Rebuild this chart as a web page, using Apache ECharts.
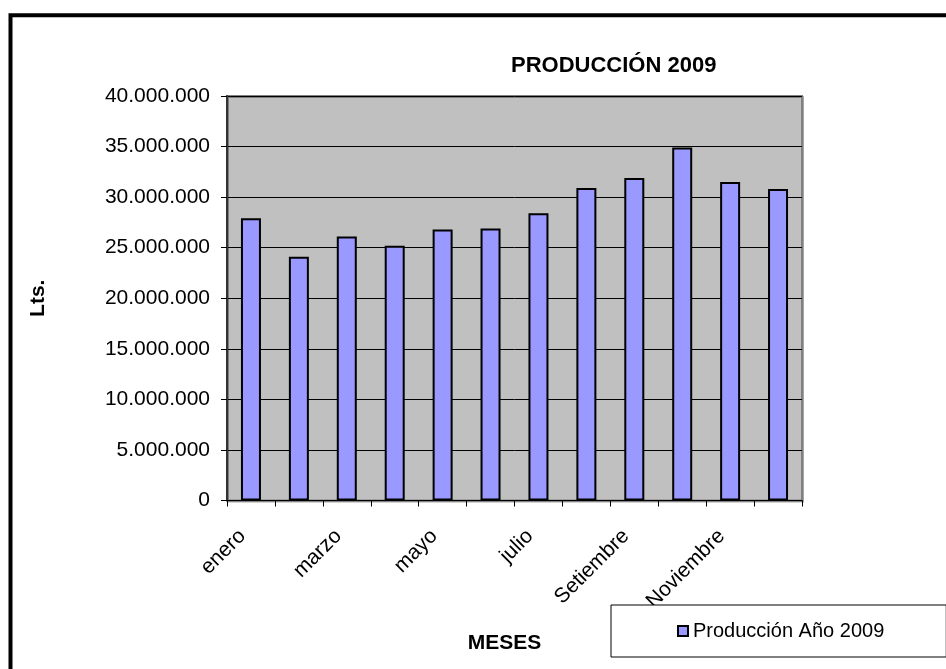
<!DOCTYPE html>
<html>
<head>
<meta charset="utf-8">
<script src="https://cdn.jsdelivr.net/npm/echarts@6/dist/echarts.min.js"></script>
<style>
html,body{margin:0;padding:0;background:#fff;}
#c{width:946px;height:669px;}
</style>
</head>
<body>
<div id="c"></div>
<script>
const categories = ['enero','febrero','marzo','abril','mayo','junio','julio','agosto','Setiembre','octubre','Noviembre','diciembre'];
const produccion = [27900000, 24100000, 26100000, 25200000, 26800000, 26900000, 28400000, 30900000, 31900000, 34900000, 31500000, 30800000];
const seriesName = 'Producción Año 2009';
const titleText = 'PRODUCCIÓN 2009';
const yName = 'Lts.';
const xName = 'MESES';

const FONT = 'Arial, "Liberation Sans", sans-serif';
function fmt(v){ return String(v).replace(/\B(?=(\d{3})+(?!\d))/g, '.'); }

const chart = echarts.init(document.getElementById('c'), null, {renderer:'canvas'});
chart.setOption({
  animation: false,
  backgroundColor: '#ffffff',
  title: {
    text: titleText,
    left: 506, top: 50,
    textStyle: {fontFamily: FONT, fontSize: 22, fontWeight: 'bold', color: '#000'}
  },
  legend: {
    data: [seriesName],
    left: 611, top: 605,
    padding: [16, 62, 16, 66],
    borderColor: '#000', borderWidth: 1,
    backgroundColor: '#fff',
    itemWidth: 10, itemHeight: 10,
    icon: 'rect',
    textStyle: {fontFamily: FONT, fontSize: 20, color: '#000'}
  },
  graphic: [{
    type: 'rect', silent: true, z: 100,
    shape: {x: 10.5, y: 15.3, width: 1000, height: 1000},
    style: {fill: 'none', stroke: '#000', lineWidth: 4}
  }],
  grid: {
    left: 227, right: 144, top: 96, bottom: 168.5,
    show: true, backgroundColor: '#C0C0C0',
    borderColor: '#808080', borderWidth: 2,
    shadowColor: 'rgba(0,0,0,0.35)', shadowBlur: 0, shadowOffsetX: 1, shadowOffsetY: 1
  },
  xAxis: {
    type: 'category', data: categories,
    name: xName, nameLocation: 'middle', nameGap: 132,
    nameTextStyle: {fontFamily: FONT, fontSize: 21, fontWeight: 'bold', color: '#000', padding: [0, 20, 0, 0]},
    axisLine: {lineStyle: {color: '#000', width: 1}},
    axisTick: {show: true, interval: 0, length: 6, lineStyle: {color: '#000'}},
    axisLabel: {interval: 1, rotate: 45, margin: 24, padding: [0, 12, 24, 0], fontFamily: FONT, fontSize: 21, color: '#000'}
  },
  yAxis: {
    type: 'value', min: 0, max: 40000000, interval: 5000000,
    name: yName, nameLocation: 'middle', nameRotate: 90, nameGap: 178,
    nameTextStyle: {fontFamily: FONT, fontSize: 21, fontWeight: 'bold', color: '#000'},
    axisLine: {show: true, lineStyle: {color: '#333', width: 2}},
    axisTick: {show: true, length: 6, lineStyle: {color: '#000'}},
    axisLabel: {margin: 17, fontFamily: FONT, fontSize: 21, color: '#000', formatter: fmt},
    splitLine: {show: true, lineStyle: {color: '#000', width: 1}}
  },
  series: [{
    name: seriesName, type: 'bar', data: produccion,
    barWidth: 20,
    itemStyle: {color: '#9999FF', borderColor: '#000', borderWidth: 2}
  }]
});
</script>
</body>
</html>
